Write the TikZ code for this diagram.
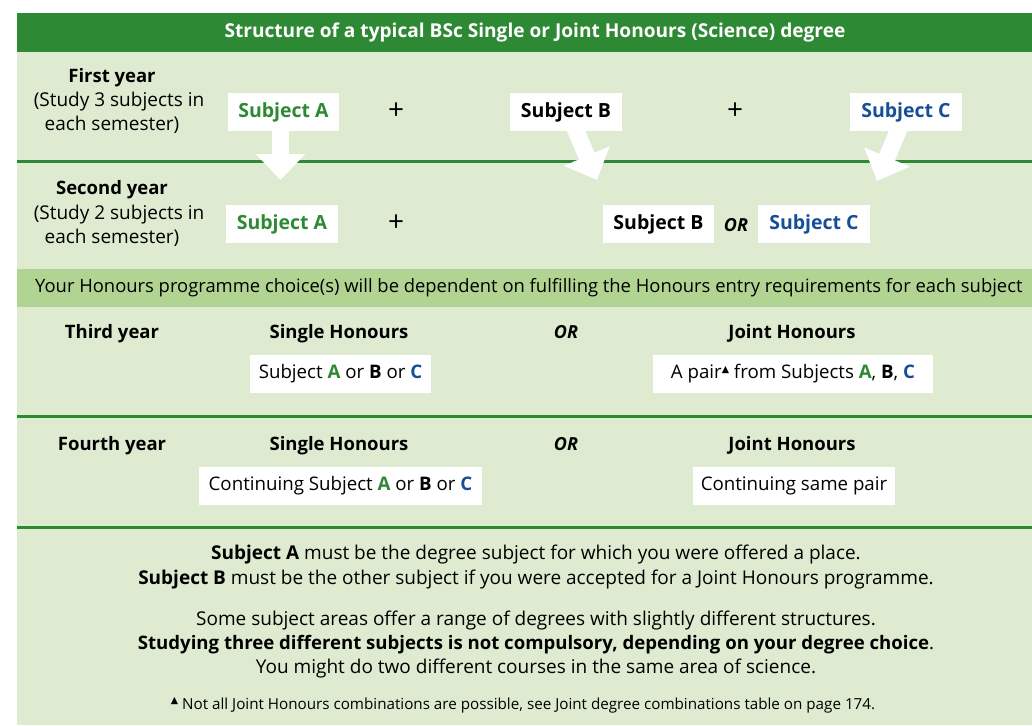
\documentclass[tikz,border=0pt]{standalone}
\usepackage{fontspec}
\setmainfont{Open Sans}
\newfontfamily\dejavu{DejaVu Sans}
\usetikzlibrary{arrows.meta}
\definecolor{hdr}{RGB}{46,137,52}
\definecolor{panel}{RGB}{222,235,208}
\definecolor{band}{RGB}{178,212,146}
\definecolor{sa}{RGB}{46,137,52}
\definecolor{sc}{RGB}{22,78,152}
\newcommand{\tri}{\raisebox{6pt}{\dejavu\fontsize{9.5}{9.5}\selectfont ▲}}
\pgfdeclarelayer{bg}
\pgfdeclarelayer{mid}
\pgfsetlayers{bg,mid,main}
\begin{document}
\begin{tikzpicture}[x=1pt,y=-1pt,
  every node/.style={inner sep=0pt},
  subj/.style={fill=white, minimum height=38pt, font=\fontsize{19.5}{23}\selectfont\bfseries},
  plainbox/.style={fill=white, minimum height=38pt, font=\fontsize{18.7}{23}\selectfont},
  txt/.style={anchor=base, font=\fontsize{19}{22}\selectfont},
  btxt/.style={anchor=base, font=\fontsize{18.5}{22}\selectfont\bfseries},
  plus/.style={font=\fontsize{28}{28}\selectfont},
  ortxt/.style={font=\fontsize{18}{22}\selectfont\bfseries\itshape},
  arr/.style={draw=white, line width=17pt, -{Triangle[width=48pt,length=26pt]}},
  rule/.style={draw=hdr, line width=3pt},
  foot/.style={anchor=base, font=\fontsize{19}{22}\selectfont}
]
\useasboundingbox (0,0) rectangle (1032,725);
\begin{pgfonlayer}{bg}
  \fill[white] (0,0) rectangle (1032,725);
  \fill[panel] (17,52) rectangle (1032,725);
  \fill[hdr] (17,13) rectangle (1032,52);
  \fill[band] (17,269) rectangle (1032,307);
  \draw[rule] (17,161) -- (1032,161);
  \draw[rule] (17,416) -- (1032,416);
  \draw[rule] (17,527) -- (1032,527);
\end{pgfonlayer}

% title
\node[text=white, font=\fontsize{19.1}{22}\selectfont\bfseries] (title) at (535,32) {Structure of a typical BSc Single or Joint Honours (Science) degree};

% first year
\node[btxt] (y1a) at (112,82) {First year};
\node[txt] (y1b) at (119,106) {(Study 3 subjects in};
\node[txt] (y1c) at (112,130) {each semester)};
\node[subj, minimum width=111pt, text=sa] (a1) at (283.5,112) {Subject A};
\node[plus] (p1) at (396,111) {+};
\node[subj, minimum width=112pt] (b1) at (566,112) {Subject B};
\node[plus] (p2) at (735,111) {+};
\node[subj, minimum width=112pt, text=sc] (c1) at (906,112) {Subject C};

% second year
\node[btxt] (y2a) at (112,194) {Second year};
\node[txt] (y2b) at (119,219) {(Study 2 subjects in};
\node[txt] (y2c) at (112,243) {each semester)};
\node[subj, minimum width=112pt, text=sa] (a2) at (282,224) {Subject A};
\node[plus] (p3) at (396,223) {+};
\node[subj, minimum width=111pt] (b2) at (658.5,224) {Subject B};
\node[ortxt] (or1) at (736,225) {OR};
\node[subj, minimum width=112pt, text=sc] (c2) at (814,224) {Subject C};

% arrows
\coordinate (ta) at (280.5,180);
\coordinate (tb) at (597,180);
\coordinate (tc) at (877,181);
\begin{pgfonlayer}{mid}
  \draw[arr] (a1.center -| ta) -- (ta);
  \draw[arr] (a1.center -| b1.center) ++(2,0) coordinate (sb) -- (tb);
  \draw[arr] (c1.center) -- (tc);
\end{pgfonlayer}

% band
\node[anchor=west, font=\fontsize{18.4}{23}\selectfont] (band) at (35,288) {Your Honours programme choice(s) will be dependent on fulfilling the Honours entry requirements for each subject};

% third year
\node[btxt] (y3) at (112,338) {Third year};
\node[btxt] (sh3) at (339,338) {Single Honours};
\node[ortxt] (or3) at (566,332) {OR};
\node[btxt] (jh3) at (792,338) {Joint Honours};
\node[plainbox, minimum width=181pt] (s3) at (340.5,374) {Subject \textbf{\color{sa}A} or \textbf{B} or \textbf{\color{sc}C}};
\node[plainbox, minimum width=280pt] (j3) at (793,374) {A pair\tri\ from Subjects \textbf{\color{sa}A}, \textbf{B}, \textbf{\color{sc}C}};

% fourth year
\node[btxt] (y4) at (112,450) {Fourth year};
\node[btxt] (sh4) at (339,450) {Single Honours};
\node[ortxt] (or4) at (566,444) {OR};
\node[btxt] (jh4) at (792,450) {Joint Honours};
\node[plainbox, minimum width=283pt] (s4) at (340.5,486) {Continuing Subject \textbf{\color{sa}A} or \textbf{B} or \textbf{\color{sc}C}};
\node[plainbox, minimum width=202pt] (j4) at (794,486) {Continuing same pair};

% footer
\node[foot] (f1) at (536,559) {\textbf{Subject A} must be the degree subject for which you were offered a place.};
\node[foot] (f2) at (536,584) {\textbf{Subject B} must be the other subject if you were accepted for a Joint Honours programme.};
\node[foot] (f3) at (536,625) {Some subject areas offer a range of degrees with slightly different structures.};
\node[foot, font=\fontsize{18.6}{22}\selectfont] (f4) at (536,649) {\textbf{Studying three different subjects is not compulsory, depending on your degree choice}.};
\node[foot] (f5) at (536,673) {You might do two different courses in the same area of science.};
\node[anchor=base, font=\fontsize{15.2}{16}\selectfont] (f6) at (523,709) {\tri\ Not all Joint Honours combinations are possible, see Joint degree combinations table on page 174.};
\end{tikzpicture}
\end{document}
